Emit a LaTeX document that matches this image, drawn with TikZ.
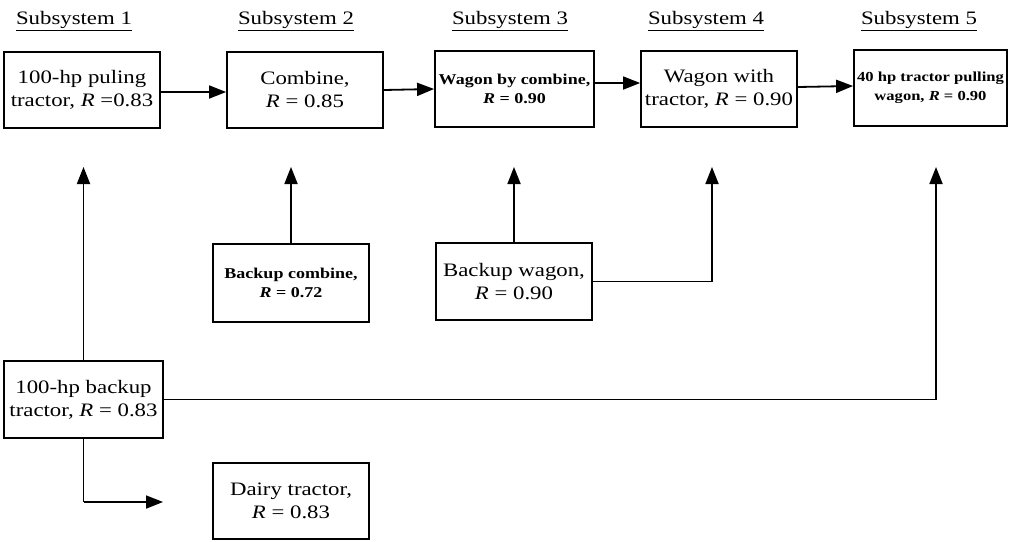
\documentclass[tikz,border=0pt]{standalone}
\usepackage{fontspec}
\setmainfont[FakeStretch=1.2]{Liberation Serif}
\usetikzlibrary{arrows.meta}

\tikzset{
  block/.style={draw, line width=1.8pt, align=center, inner sep=2pt,
                font=\fontsize{19}{23}\selectfont},
  smallbold/.style={font=\fontsize{15}{19}\selectfont\bfseries},
  tinybold/.style={font=\fontsize{13.8}{19}\selectfont\bfseries, inner sep=1pt},
  title/.style={font=\fontsize{19}{20}\selectfont, inner sep=0pt},
  link/.style={line width=1.8pt, -{Triangle[length=17pt,width=13pt]}},
  wire/.style={line width=1.8pt},
}

\begin{document}
\begin{tikzpicture}[x=1pt,y=-1pt]
  \useasboundingbox (0,0) rectangle (1009,541);

  % subsystem headings
  \node[title] (h1) at (74,21)  {\underline{Subsystem 1}};
  \node[title] (h2) at (296,21) {\underline{Subsystem 2}};
  \node[title] (h3) at (510,21) {\underline{Subsystem 3}};
  \node[title] (h4) at (706,21) {\underline{Subsystem 4}};
  \node[title] (h5) at (919,21) {\underline{Subsystem 5}};

  % main chain
  \node[block, minimum width=156, minimum height=76] (b1) at (82,90)
    {100-hp puling\\tractor, \textit{R} =0.83};
  \node[block, minimum width=156, minimum height=76] (b2) at (305,90)
    {Combine,\\\textit{R} = 0.85};
  \node[block, smallbold, minimum width=159, minimum height=76] (b3) at (514.5,89)
    {Wagon by combine,\\\textit{R} = 0.90};
  \node[block, minimum width=156, minimum height=76] (b4) at (719,89)
    {Wagon with\\tractor, \textit{R} = 0.90};
  \node[block, tinybold, minimum width=153, minimum height=76] (b5) at (930.5,88)
    {40 hp tractor pulling\\wagon, \textit{R} = 0.90};

  % backup units
  \node[block, smallbold, minimum width=156, minimum height=78] (bc) at (291,283)
    {Backup combine,\\\textit{R} = 0.72};
  \node[block, minimum width=156, minimum height=77] (bw) at (514,281.5)
    {Backup wagon,\\\textit{R} = 0.90};
  \node[block, minimum width=159, minimum height=77] (bt) at (83.5,399.5)
    {100-hp backup\\tractor, \textit{R} = 0.83};
  \node[block, minimum width=156, minimum height=76] (dt) at (291,501)
    {Dairy tractor,\\\textit{R} = 0.83};

  % free ends of the connectors
  \coordinate (t1) at (83.5,167);
  \coordinate (t2) at (291,167);
  \coordinate (t3) at (514,167);
  \coordinate (t4) at (712,167);
  \coordinate (t5) at (936,167);
  \coordinate (c4) at (712,281.5);
  \coordinate (c5) at (936,399.5);
  \coordinate (cd) at (83.5,502);
  \coordinate (td) at (163,502);

  % chain arrows
  \draw[link] ([yshift=-2pt]b1.east) -- ([yshift=-2pt]b2.west);
  \draw[link] (b2.east) -- (b3.west);
  \draw[link] ([yshift=6pt]b3.east) -- ([yshift=6pt]b4.west);
  \draw[link] ([yshift=2pt]b4.east) -- ([yshift=2pt]b5.west);

  % backup arrows
  \draw[link] (bt.north) -- (t1);
  \draw[link] (bc.north) -- (t2);
  \draw[link] (bw.north) -- (t3);
  \draw[wire] (bw.east) -- (c4);
  \draw[link] (c4) -- (t4);
  \draw[wire] (bt.east) -- (c5);
  \draw[link] (c5) -- (t5);
  \draw[wire] (bt.south) -- (cd);
  \draw[link] (cd) -- (td);
\end{tikzpicture}
\end{document}
